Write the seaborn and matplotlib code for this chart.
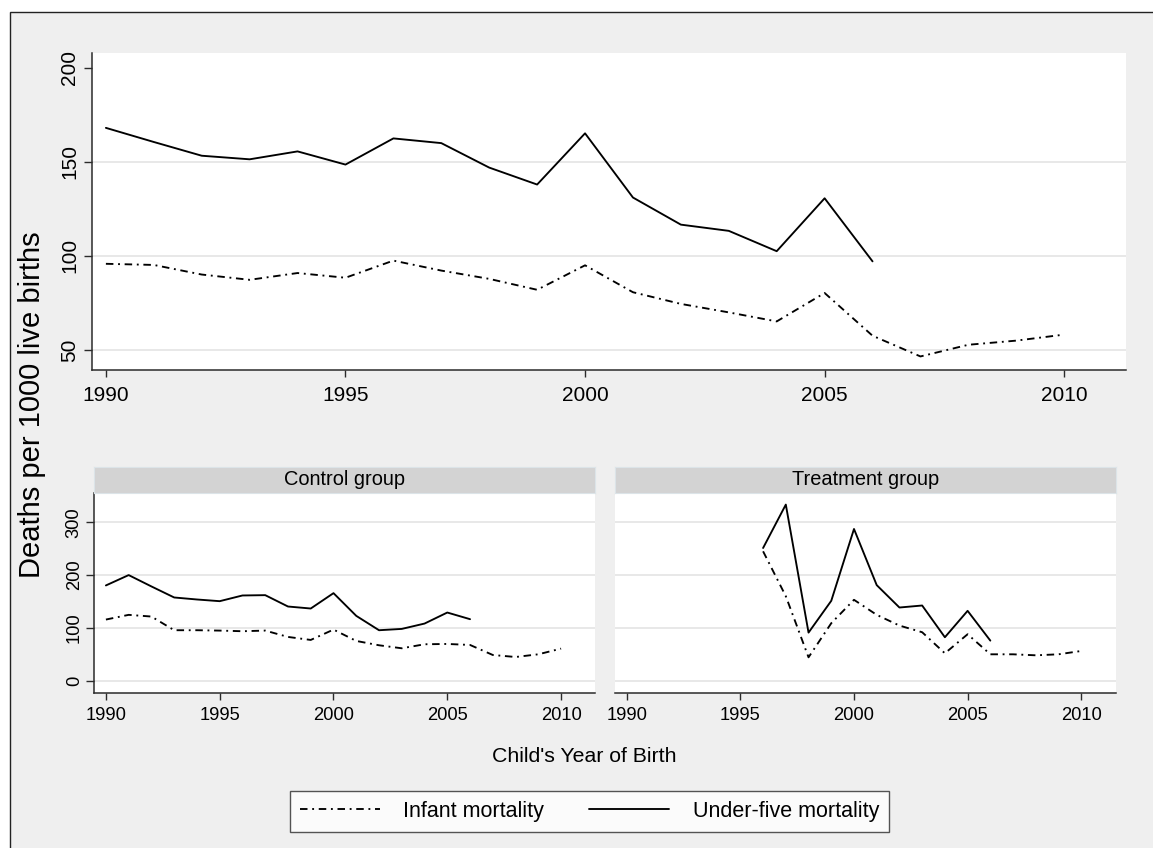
import pandas as pd
import matplotlib
matplotlib.use("Agg")
import matplotlib.pyplot as plt
from matplotlib.patches import Rectangle
from matplotlib.lines import Line2D
import seaborn as sns

# Deaths per 1000 live births by child's year of birth
years_all_u5 = list(range(1990, 2007))
all_u5 = [168.0, 160.5, 153.2, 151.3, 155.5, 148.5, 162.4, 159.9, 146.9,
          137.9, 165.1, 131.0, 116.6, 113.3, 102.5, 130.6, 97.1]
years_all_inf = list(range(1990, 2011))
all_inf = [95.8, 95.2, 90.1, 87.3, 90.9, 88.4, 97.5, 92.2, 87.8, 82.0, 95.0,
           80.7, 74.5, 70.0, 65.2, 80.3, 57.6, 46.6, 52.8, 55.0, 58.2]

years_control_u5 = list(range(1990, 2007))
control_u5 = [180.4, 200.0, 178.5, 157.6, 153.8, 150.6, 161.4, 162.0, 140.5,
              136.7, 165.8, 122.8, 95.6, 98.1, 108.2, 129.1, 116.5]
years_control_inf = list(range(1990, 2011))
control_inf = [115.8, 124.7, 121.5, 95.6, 95.6, 94.9, 93.7, 94.9, 82.9, 77.2,
               96.8, 75.3, 67.1, 61.4, 69.0, 69.6, 67.7, 48.7, 44.9, 50.0, 60.8]

years_treat_u5 = list(range(1996, 2007))
treat_u5 = [251.3, 333.5, 91.1, 151.3, 287.3, 181.0, 138.6, 142.4, 82.3,
            132.3, 75.9]
years_treat_inf = list(range(1996, 2011))
treat_inf = [245.0, 160.0, 44.3, 108.9, 153.2, 124.7, 104.4, 91.8, 51.9,
             88.0, 50.0, 50.0, 48.1, 50.0, 56.3]

x_ticks = [1990, 1995, 2000, 2005, 2010]
top_y_ticks = [50, 100, 150, 200]
panel_y_ticks = [0, 100, 200, 300]
measures = ["Infant mortality", "Under-five mortality"]
panel_titles = ["Control group", "Treatment group"]
y_title = "Deaths per 1000 live births"
x_title = "Child's Year of Birth"

sns.set_style("ticks")
plt.rcParams["font.family"] = ["Liberation Sans", "DejaVu Sans"]

INK = "#000000"
AXIS = "#2b2b2b"
GRID = "#E6E6E6"
BG = "#EFEFEF"
STRIP = "#D3D3D3"
DASHDOT = (4, 2.5, 1, 2.5)
LW = 1.35


def frame(years, values, measure):
    return pd.DataFrame({"year": years, "rate": values, "measure": measure})


def measure_data(y_inf, v_inf, y_u5, v_u5):
    return pd.concat([frame(y_inf, v_inf, measures[0]),
                      frame(y_u5, v_u5, measures[1])], ignore_index=True)


W, H = 1153, 848


def box(l, t, r, b):
    return [l / W, 1 - b / H, (r - l) / W, (b - t) / H]


fig = plt.figure(figsize=(W / 100, H / 100), dpi=100, facecolor="white")
fig.add_artist(Rectangle((10.5 / W, -0.05), 1.2, 1.05 - 12.5 / H,
                         transform=fig.transFigure, facecolor=BG,
                         edgecolor="#222222", lw=1.0, zorder=-10))

ax_top = fig.add_axes(box(92, 53.3, 1126, 370))
ax_c = fig.add_axes(box(94.3, 492.7, 595, 692.7))
ax_t = fig.add_axes(box(614.7, 492.7, 1116, 692.7))


def draw(ax, data):
    sns.lineplot(data=data, x="year", y="rate", style="measure",
                 style_order=measures,
                 dashes={measures[0]: DASHDOT, measures[1]: ""},
                 color=INK, lw=LW, legend=False, ax=ax, estimator=None)


def style_axes(ax, xlim, ylim, yticks, fs, xpad, ypad, show_y=True):
    ax.set_facecolor("white")
    ax.set_xlim(*xlim)
    ax.set_ylim(*ylim)
    ax.set_xticks(x_ticks)
    ax.set_yticks(yticks)
    for s in ("top", "right"):
        ax.spines[s].set_visible(False)
    ax.spines["bottom"].set_color(AXIS)
    ax.spines["bottom"].set_linewidth(1.1)
    ax.spines["left"].set_color(AXIS)
    ax.spines["left"].set_linewidth(1.1)
    ax.spines["left"].set_visible(show_y)
    ax.grid(axis="y", color=GRID, lw=1.3)
    ax.set_axisbelow(True)
    ax.tick_params(axis="x", length=5.3, width=1.0, color=AXIS,
                   labelsize=fs, pad=xpad, labelcolor=INK)
    ax.tick_params(axis="y", length=5.5, width=1.0, color=AXIS,
                   labelsize=fs, pad=ypad, labelrotation=90, labelcolor=INK)
    for lab in ax.get_yticklabels():
        lab.set_va("center")
    if not show_y:
        ax.tick_params(axis="y", length=0, labelleft=False)
    ax.set_xlabel("")
    ax.set_ylabel("")


draw(ax_top, measure_data(years_all_inf, all_inf, years_all_u5, all_u5))
draw(ax_c, measure_data(years_control_inf, control_inf,
                        years_control_u5, control_u5))
draw(ax_t, measure_data(years_treat_inf, treat_inf, years_treat_u5, treat_u5))

style_axes(ax_top, (1989.71, 2011.29), (39.4, 207.6), top_y_ticks, 15,
           6.0, 3.5)
# no gridline at the top tick of the pooled panel
ax_top.yaxis.get_gridlines()[-1].set_visible(False)
style_axes(ax_c, (1989.49, 2011.49), (-22.7, 356), panel_y_ticks, 13.2,
           5.0, 2.8)
style_axes(ax_t, (1989.47, 2011.53), (-22.7, 356), panel_y_ticks, 13.2,
           5.0, 2.8, show_y=False)

# facet headers
for (l, r), title in zip([(94.3, 595), (614.7, 1116)], panel_titles):
    sax = fig.add_axes(box(l, 466.7, r, 492.7))
    sax.set_facecolor(STRIP)
    sax.set_xticks([])
    sax.set_yticks([])
    for s in sax.spines.values():
        s.set_color("#DCE4E8")
        s.set_linewidth(0.8)
    sax.text(0.5, 0.5, title, ha="center", va="center", fontsize=14.4,
             color=INK, transform=sax.transAxes)

fig.text(32 / W, 1 - 405 / H, y_title, rotation=90, ha="center",
         va="center", fontsize=21, color=INK)
fig.text(584 / W, 1 - 757 / H, x_title, ha="center", va="center",
         fontsize=15.3, color=INK)

handles = [Line2D([], [], color=INK, lw=LW, dashes=DASHDOT),
           Line2D([], [], color=INK, lw=LW)]
leg = fig.legend(handles, measures, loc="center",
                 bbox_to_anchor=(589.5 / W, 1 - 811.5 / H), ncol=2,
                 fontsize=15.5, frameon=True, fancybox=False,
                 handlelength=3.7, handletextpad=1.1, columnspacing=2.1,
                 borderpad=0.45, borderaxespad=0)
leg.get_frame().set_edgecolor(AXIS)
leg.get_frame().set_linewidth(1.0)
leg.get_frame().set_facecolor("white")
for t in leg.get_texts():
    t.set_color(INK)

fig.savefig("out.png", dpi=100, facecolor="white")
